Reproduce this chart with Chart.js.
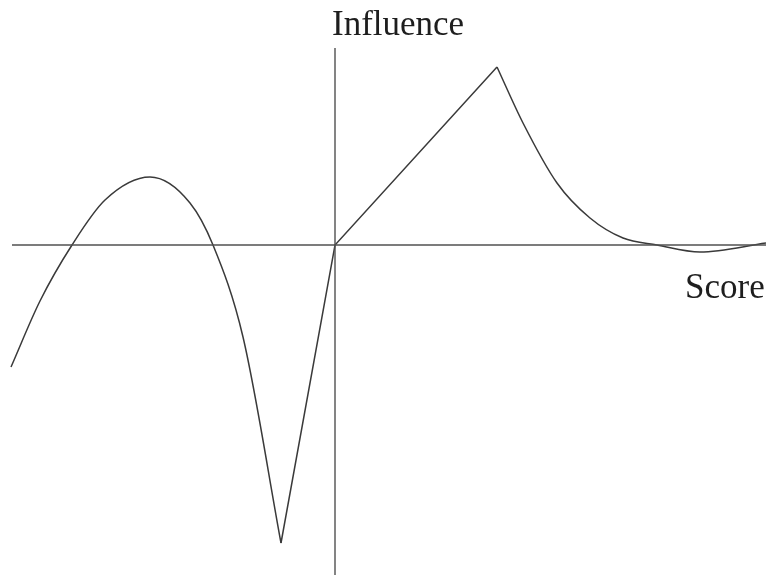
<!DOCTYPE html>
<html>
<head>
<meta charset="utf-8">
<script src="https://cdn.jsdelivr.net/npm/chart.js@4"></script>
<style>
  body { margin: 0; background: #fff; }
  #wrap { position: relative; width: 766px; height: 575px; }
  .lbl { position: absolute; font-family: "Liberation Serif", "DejaVu Serif", serif; font-size: 35px; line-height: 35px; color: #1e1e1e; white-space: nowrap; }
</style>
</head>
<body>
<div id="wrap">
  <canvas id="influenceChart" width="766" height="575"></canvas>
  <div class="lbl" id="yLabel" style="left:332px; top:6px;">Influence</div>
  <div class="lbl" id="xLabel" style="left:685px; top:269px;">Score</div>
</div>
<script>
// curve, split where it has corners
const humpX = [-3.24, -2.95, -2.63, -2.30, -1.85, -1.45, -1.22, -0.92, -0.54];
const humpY = [-1.22, -0.56, 0.00, 0.45, 0.68, 0.42, 0.00, -0.92, -2.98];

const rampX = [-0.54, 0.00, 1.62];
const rampY = [-2.98, 0.00, 1.78];

const decayX = [1.62, 1.88, 2.22, 2.55, 2.88, 3.22, 3.65, 4.31];
const decayY = [1.78, 1.22, 0.62, 0.27, 0.07, 0.00, -0.07, 0.02];

// axis extents
const xAxisX = [-3.23, 4.31];
const yAxisY = [-3.30, 1.97];

function toPoints(xs, ys) {
    return xs.map((x, i) => ({ x: x, y: ys[i] }));
}

const lineColor = '#3a3a3a';

new Chart(document.getElementById('influenceChart').getContext('2d'), {
    type: 'line',
    data: {
        datasets: [
            {
                data: toPoints(xAxisX, [0, 0]),
                borderColor: '#505050', borderWidth: 1.4, pointRadius: 0, tension: 0
            },
            {
                data: toPoints([0, 0], yAxisY),
                borderColor: '#505050', borderWidth: 1.4, pointRadius: 0, tension: 0
            },
            {
                data: toPoints(humpX, humpY),
                borderColor: lineColor, borderWidth: 1.5, pointRadius: 0,
                cubicInterpolationMode: 'monotone'
            },
            {
                data: toPoints(rampX, rampY),
                borderColor: lineColor, borderWidth: 1.5, pointRadius: 0, tension: 0
            },
            {
                data: toPoints(decayX, decayY),
                borderColor: lineColor, borderWidth: 1.5, pointRadius: 0,
                cubicInterpolationMode: 'monotone'
            }
        ]
    },
    options: {
        responsive: false,
        animation: false,
        layout: { padding: 0 },
        plugins: { legend: { display: false }, tooltip: { enabled: false } },
        scales: {
            x: { type: 'linear', min: -3.35, max: 4.31, display: false },
            y: { type: 'linear', min: -3.30, max: 2.45, display: false }
        }
    }
});
</script>
</body>
</html>
